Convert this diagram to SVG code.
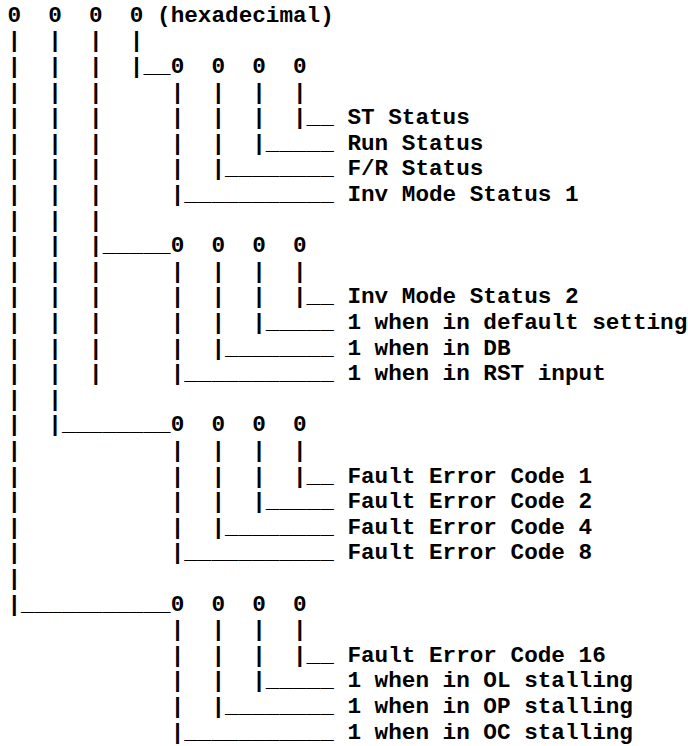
<svg xmlns="http://www.w3.org/2000/svg" width="688" height="746" viewBox="0 0 688 746">
<style>
text{font-family:"Liberation Mono","Courier New",monospace;font-weight:bold;font-size:22.67px;fill:#000;white-space:pre}
</style>
<rect width="688" height="746" fill="#fff"/>
<g id="art" xml:space="preserve">
<text x="7.5" y="21.7">0  0  0  0 (hexadecimal)</text>
<text x="7.5" y="47.3">|  |  |  |</text>
<text x="7.5" y="72.9">|  |  |  |__0  0  0  0</text>
<text x="7.5" y="98.5">|  |  |     |  |  |  |</text>
<text x="7.5" y="124.1">|  |  |     |  |  |  |__ ST Status</text>
<text x="7.5" y="149.7">|  |  |     |  |  |_____ Run Status</text>
<text x="7.5" y="175.3">|  |  |     |  |________ F/R Status</text>
<text x="7.5" y="200.9">|  |  |     |___________ Inv Mode Status 1</text>
<text x="7.5" y="226.5">|  |  |</text>
<text x="7.5" y="252.1">|  |  |_____0  0  0  0</text>
<text x="7.5" y="277.7">|  |  |     |  |  |  |</text>
<text x="7.5" y="303.3">|  |  |     |  |  |  |__ Inv Mode Status 2</text>
<text x="7.5" y="328.9">|  |  |     |  |  |_____ 1 when in default setting</text>
<text x="7.5" y="354.5">|  |  |     |  |________ 1 when in DB</text>
<text x="7.5" y="380.1">|  |  |     |___________ 1 when in RST input</text>
<text x="7.5" y="405.7">|  |</text>
<text x="7.5" y="431.3">|  |________0  0  0  0</text>
<text x="7.5" y="456.9">|           |  |  |  |</text>
<text x="7.5" y="482.5">|           |  |  |  |__ Fault Error Code 1</text>
<text x="7.5" y="508.1">|           |  |  |_____ Fault Error Code 2</text>
<text x="7.5" y="533.7">|           |  |________ Fault Error Code 4</text>
<text x="7.5" y="559.3">|           |___________ Fault Error Code 8</text>
<text x="7.5" y="584.9">|</text>
<text x="7.5" y="610.5">|___________0  0  0  0</text>
<text x="7.5" y="636.1">            |  |  |  |</text>
<text x="7.5" y="661.7">            |  |  |  |__ Fault Error Code 16</text>
<text x="7.5" y="687.3">            |  |  |_____ 1 when in OL stalling</text>
<text x="7.5" y="712.9">            |  |________ 1 when in OP stalling</text>
<text x="7.5" y="738.5">            |___________ 1 when in OC stalling</text>
</g>
</svg>
